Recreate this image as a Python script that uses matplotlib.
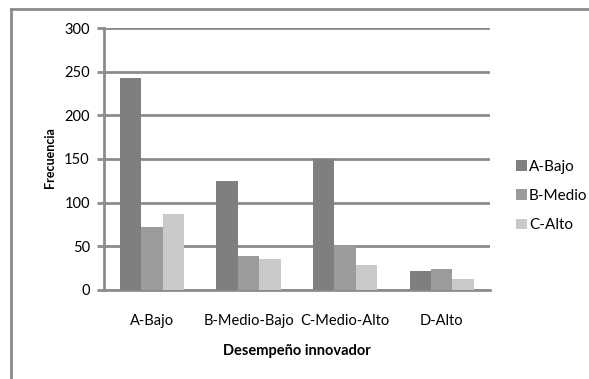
import matplotlib.pyplot as plt
from matplotlib.lines import Line2D
import numpy as np

categorias = ["A-Bajo", "B-Medio-Bajo", "C-Medio-Alto", "D-Alto"]
series = ["A-Bajo", "B-Medio", "C-Alto"]
a_bajo = [243, 125, 150, 22]
b_medio = [72, 39, 50, 24]
c_alto = [87, 35, 29, 13]
colores = ["#7f7f7f", "#9b9b9b", "#c9c9c9"]

plt.rcParams['font.family'] = ['Lato', 'DejaVu Sans']
gris = "#8c8c8c"

fig = plt.figure(figsize=(5.89, 3.79), dpi=100)
ax = fig.add_axes([0.176, 0.235, 0.656, 0.691])

x = np.arange(len(categorias))
ancho = 1 / 4.5
for i, (vals, nombre) in enumerate(zip([a_bajo, b_medio, c_alto], series)):
    ax.bar(x + (i - 1) * ancho, vals, width=ancho, color=colores[i],
           label=nombre, zorder=3)

ax.set_xlim(-0.5, len(categorias) - 0.5)
ax.set_ylim(0, 300)
ax.set_yticks(range(0, 301, 50))
ax.yaxis.grid(True, color=gris, linewidth=2, zorder=0)
ax.set_xticks(x)
ax.set_xticklabels(categorias, fontsize=10.5)
ax.tick_params(axis='x', length=0, pad=17)
ax.tick_params(axis='y', length=5, width=2, color=gris, labelsize=10.5, pad=5)

for s in ['top', 'right']:
    ax.spines[s].set_visible(False)
for s in ['left', 'bottom']:
    ax.spines[s].set_color(gris)
    ax.spines[s].set_linewidth(2)

ax.set_xlabel("Desempeño innovador", fontsize=10.5, fontweight='bold', labelpad=12)
fig.text(50 / 589, 1 - 158 / 379, "Frecuencia", rotation=90, fontsize=9,
         fontweight='bold', ha='center', va='center')

fig.legend(loc='center left', bbox_to_anchor=(516 / 589, 1 - 196 / 379),
           frameon=False, fontsize=11, handlelength=0.7, handleheight=0.7,
           handletextpad=0.15, labelspacing=1.0, borderpad=0, borderaxespad=0)

# marco exterior del gráfico
fig.add_artist(Line2D([11 / 589, 11 / 589], [0, 1 - 9 / 379], color=gris,
                      linewidth=2, transform=fig.transFigure))
fig.add_artist(Line2D([11 / 589, 1], [1 - 9 / 379, 1 - 9 / 379], color=gris,
                      linewidth=2, transform=fig.transFigure))

fig.savefig("out.png", dpi=100)
